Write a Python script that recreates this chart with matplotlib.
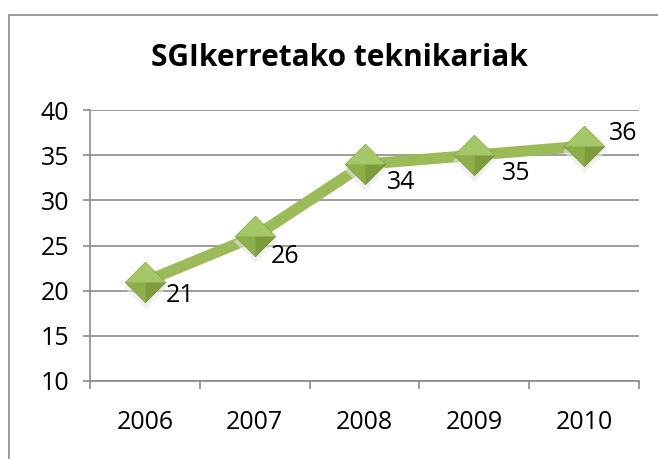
import matplotlib.pyplot as plt
from matplotlib.patches import Rectangle

years = ["2006", "2007", "2008", "2009", "2010"]
values = [21, 26, 34, 35, 36]
label_offsets = [(35, -14), (30, -20), (37, -18), (42, -18), (39, 13)]  # px

FONT = "Open Sans"
GREEN = "#9BBB59"

W, H = 658, 459
fig = plt.figure(figsize=(W / 100, H / 100), dpi=100)

# chart frame (cut off on right and bottom like the source)
fig.patches.append(Rectangle((9 / W, -0.05), 1.1, (H - 15) / H + 0.05,
                             transform=fig.transFigure, fill=False,
                             edgecolor="#8a8a8a", lw=1.2))

ax = fig.add_axes([90 / W, (H - 381) / H, (639 - 90) / W, (381 - 110) / H])
x = list(range(len(years)))

diamond = [(-1, 0), (0, 1), (1, 0), (0, -1), (-1, 0)]
top_half = [(-1, 0), (0, 1), (1, 0), (0, 0), (-1, 0)]
left_q = [(-1, 0), (0, 0), (0, -1), (-1, 0)]
ms = 29

ax.plot(x, values, color=GREEN, lw=8, solid_capstyle="butt", zorder=3)
# marker: soft shadow, base diamond, shaded faces
ax.plot(x, [v - 0.55 for v in values], ls="none", marker=diamond, ms=ms + 2,
        mfc="#e6e6e6", mec="none", alpha=0.6, zorder=3.5)
ax.plot(x, values, ls="none", marker=diamond, ms=ms, mfc="#7d9d3d",
        mec="#6f8e35", mew=0.6, zorder=4)
ax.plot(x, values, ls="none", marker=left_q, ms=ms, mfc="#8caf4a",
        mec="none", zorder=4.5)
ax.plot(x, values, ls="none", marker=top_half, ms=ms, mfc="#a4c767",
        mec="none", zorder=5)

for xi, v, (dx, dy) in zip(x, values, label_offsets):
    ax.annotate(str(v), (xi, v), xytext=(dx * 0.72, dy * 0.72),
                textcoords="offset points", ha="center", va="center",
                fontsize=18, family=FONT, color="black", zorder=6)

ax.set_xlim(-0.5, len(years) - 0.5)
ax.set_ylim(10, 40)
ax.set_yticks(range(10, 41, 5))
ax.set_yticklabels([str(t) for t in range(10, 41, 5)], family=FONT, fontsize=18)
ax.set_xticks(x)
ax.set_xticklabels(years, family=FONT, fontsize=18)
ax.set_xticks([i - 0.5 for i in range(len(years) + 1)], minor=True)
ax.tick_params(axis="x", which="major", length=0, pad=21)
ax.tick_params(axis="x", which="minor", length=6, width=1.2, color="#8a8a8a")
ax.tick_params(axis="y", length=5, width=1.2, color="#8a8a8a", pad=10)

ax.grid(axis="y", color="#8c8c8c", lw=1.2)
ax.set_axisbelow(True)
for s in ["top", "right"]:
    ax.spines[s].set_visible(False)
for s in ["left", "bottom"]:
    ax.spines[s].set_color("#8a8a8a")
    ax.spines[s].set_linewidth(1.2)

fig.text(339 / W, 1 - 58 / H, "SGIkerretako teknikariak", ha="center",
         va="center", fontsize=21.5, fontweight="bold", family=FONT)

fig.savefig("out.png", dpi=100)
